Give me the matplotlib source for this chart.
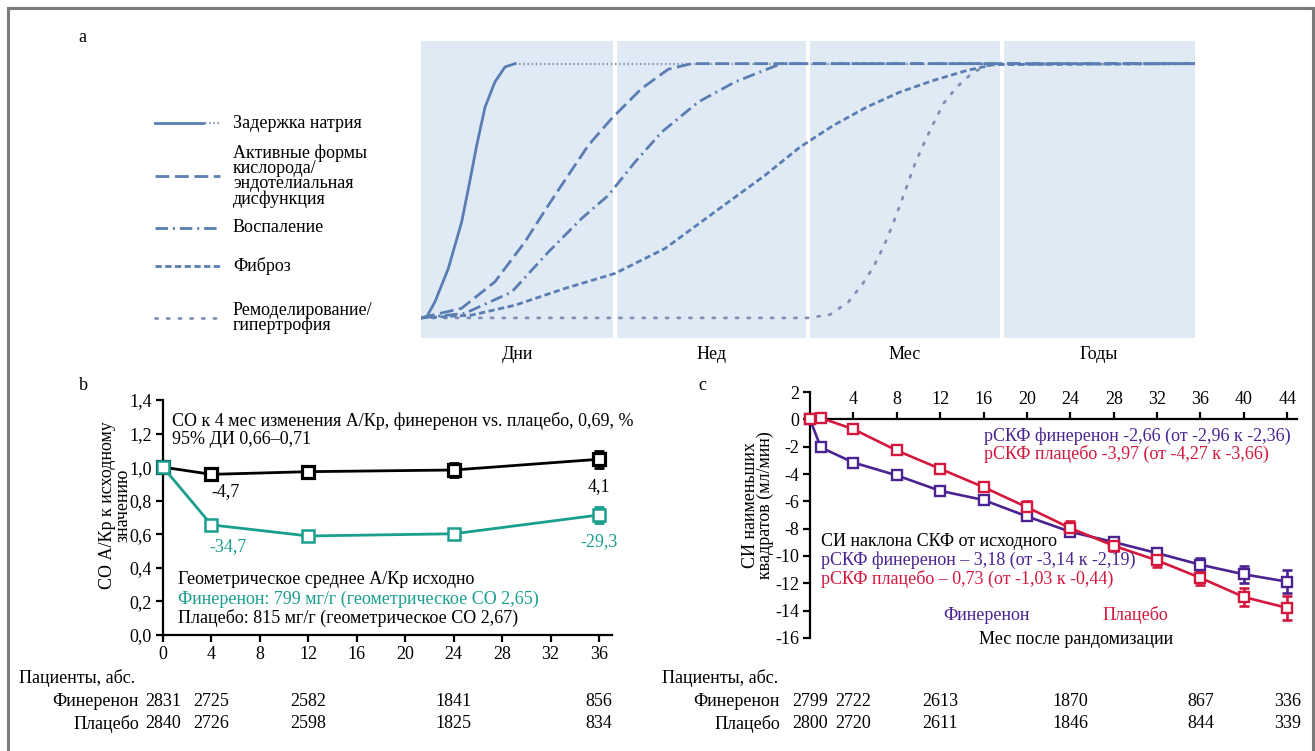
import matplotlib
matplotlib.use('Agg')
import matplotlib.pyplot as plt
import matplotlib.transforms as mtransforms
from matplotlib.lines import Line2D
from matplotlib.patches import Rectangle

plt.rcParams['font.family'] = ['Liberation Serif', 'DejaVu Serif']
plt.rcParams['axes.unicode_minus'] = False
plt.rcParams['lines.scale_dashes'] = False

W, H = 1315, 751
FS = 13

# ---------- panel a: schematic time courses (x: 0..4 = days/weeks/months/years, y: 0..1)
sections = ['Дни', 'Нед', 'Мес', 'Годы']

sodium_x = [0.0, 0.03, 0.072, 0.141, 0.210, 0.245, 0.288, 0.331, 0.382, 0.434, 0.486]
sodium_y = [0.0, 0.005, 0.063, 0.194, 0.377, 0.509, 0.679, 0.829, 0.928, 0.987, 1.0]
sodium_top_x = [0.486, 4.0]
sodium_top_y = [1.0, 1.0]

ros_x = [0.0, 0.21, 0.382, 0.537, 0.658, 0.761, 0.865, 0.985, 1.14, 1.278, 1.398, 4.0]
ros_y = [0.0, 0.038, 0.142, 0.299, 0.443, 0.561, 0.679, 0.784, 0.902, 0.978, 1.0, 1.0]

infl_x = [0.0, 0.227, 0.469, 0.658, 0.830, 0.968, 1.106, 1.244, 1.433, 1.623, 1.795, 1.864, 4.0]
infl_y = [0.0, 0.018, 0.102, 0.259, 0.391, 0.482, 0.613, 0.731, 0.849, 0.928, 0.980, 1.0, 1.0]

fibr_x = [0.0, 0.262, 0.486, 0.744, 1.003, 1.261, 1.519, 1.778, 1.959, 2.131, 2.303, 2.475,
          2.648, 2.820, 2.958, 4.0]
fibr_y = [0.0, 0.011, 0.050, 0.116, 0.175, 0.273, 0.417, 0.561, 0.672, 0.757, 0.829, 0.888,
          0.934, 0.973, 0.996, 1.0]

remod_x = [0.0, 2.0, 2.114, 2.209, 2.278, 2.338, 2.390, 2.433, 2.475, 2.513, 2.553, 2.599,
           2.648, 2.700, 2.769, 2.855, 2.941, 4.0]
remod_y = [0.0, 0.0, 0.013, 0.063, 0.129, 0.200, 0.279, 0.358, 0.443, 0.522, 0.607, 0.686,
           0.764, 0.843, 0.908, 0.967, 0.996, 1.0]

legend_labels = ['Задержка натрия',
                 'Активные формы\nкислорода/\nэндотелиальная\nдисфункция',
                 'Воспаление',
                 'Фиброз',
                 'Ремоделирование/\nгипертрофия']

# ---------- panel b: UACR ratio to baseline
months_b = [0, 4, 12, 24, 36]
placebo_b = [1.0, 0.957, 0.973, 0.983, 1.047]
placebo_b_err = [0, 0, 0, 0.042, 0.05]
finer_b = [1.0, 0.656, 0.59, 0.603, 0.715]
finer_b_err = [0, 0, 0, 0, 0.05]
placebo_b_pct = ['-4,7', '4,1']
finer_b_pct = ['-34,7', '-29,3']
pct_months_b = [4, 36]
n_months_b = [0, 4, 12, 24, 36]
n_finer_b = [2831, 2725, 2582, 1841, 856]
n_placebo_b = [2840, 2726, 2598, 1825, 834]

# ---------- panel c: eGFR change from baseline
months_c = [0, 1, 4, 8, 12, 16, 20, 24, 28, 32, 36, 40, 44]
finer_c = [0.0, -2.06, -3.16, -4.1, -5.23, -5.9, -7.1, -8.23, -8.98, -9.79, -10.64, -11.34, -11.88]
finer_c_err = [0, 0, 0, 0, 0, 0, 0, 0, 0.22, 0.25, 0.5, 0.6, 0.83]
placebo_c = [0.0, 0.1, -0.72, -2.28, -3.62, -4.96, -6.43, -7.96, -9.25, -10.32, -11.6, -13.0, -13.8]
placebo_c_err = [0, 0, 0, 0, 0, 0.32, 0.45, 0.5, 0.36, 0.47, 0.5, 0.67, 0.85]
n_months_c = [0, 4, 12, 24, 36, 44]
n_finer_c = [2799, 2722, 2613, 1870, 867, 336]
n_placebo_c = [2800, 2720, 2611, 1846, 844, 339]

curve_col = '#5a7db3'
remod_col = '#8090b3'
teal = '#1a9e8e'
purple = '#4a2391'
red = '#d4183d'


def fx(x):
    return x / W


def fy(y):
    return 1 - y / H


def pt(px):
    return px * 0.72


fig = plt.figure(figsize=(W / 100, H / 100), dpi=100)
fig.patches.append(Rectangle((fx(8), -0.02), fx(1305), fy(8) + 0.02, transform=fig.transFigure,
                             fill=False, edgecolor='#7a7a7a', lw=2.2))

# ================= panel a
axa = fig.add_axes([fx(421), fy(338), fx(774), 297 / H])
axa.set_facecolor('#e0eaf4')
axa.set_xlim(0, 4)
axa.set_ylim(-0.079, 1.089)
for s in axa.spines.values():
    s.set_visible(False)
for xv in [1, 2, 3]:
    axa.axvline(xv, color='white', lw=3, zorder=1)

st_sod = '-'
st_sod_top = (0, (1.0, 2.0))
st_ros = (0, (10, 4))
st_infl = (0, (9, 3.5, 1.5, 3.5))
st_fibr = (0, (4.5, 2.5))
st_remod = (0, (1.6, 6.8))
LW = 2.0

axa.plot(remod_x, remod_y, color=remod_col, lw=LW, ls=st_remod, dash_capstyle='round', zorder=2)
axa.plot(fibr_x, fibr_y, color=curve_col, lw=LW, ls=st_fibr, zorder=3)
axa.plot(infl_x, infl_y, color=curve_col, lw=LW, ls=st_infl, zorder=3)
axa.plot(ros_x, ros_y, color=curve_col, lw=LW, ls=st_ros, zorder=3)
axa.plot(sodium_top_x, sodium_top_y, color=remod_col, lw=1.6, ls=st_sod_top, zorder=2)
axa.plot(sodium_x, sodium_y, color=curve_col, lw=LW, ls=st_sod, zorder=4)

axa.set_yticks([])
axa.set_xticks([0.5, 1.5, 2.5, 3.5])
axa.set_xticklabels(sections, fontsize=FS)
axa.tick_params(axis='x', length=0, pad=6)

fig.text(fx(78), fy(38), 'а', fontsize=FS, ha='left', va='center')

# legend drawn by hand on the left
leg_y = [123, 176, 228, 266, 318]
leg_styles = [st_sod, st_ros, st_infl, st_fibr, st_remod]
for yy, lab, ls in zip(leg_y, legend_labels, leg_styles):
    col = remod_col if ls is st_remod else curve_col
    if ls is st_sod:
        fig.add_artist(Line2D([fx(155), fx(203)], [fy(yy)] * 2, color=curve_col, lw=LW))
        fig.add_artist(Line2D([fx(205), fx(220)], [fy(yy)] * 2, color=remod_col, lw=1.6,
                              ls=st_sod_top))
    else:
        fig.add_artist(Line2D([fx(155), fx(220)], [fy(yy)] * 2, color=col, lw=LW, ls=ls,
                              dash_capstyle='round' if ls is st_remod else 'butt'))
    fig.text(fx(233), fy(yy), lab, fontsize=FS, ha='left', va='center', linespacing=0.86)

# ================= panel b
axb = fig.add_axes([fx(163), fy(635), fx(449), 235 / H])
axb.set_xlim(0, 37.07)
axb.set_ylim(0, 1.4)
for k in ['top', 'right']:
    axb.spines[k].set_visible(False)
for k in ['left', 'bottom']:
    axb.spines[k].set_linewidth(1.6)
axb.set_xticks(range(0, 37, 4))
yt = [0, 0.2, 0.4, 0.6, 0.8, 1.0, 1.2, 1.4]
axb.set_yticks(yt)
axb.set_yticklabels([('%.1f' % v).replace('.', ',') for v in yt])
axb.tick_params(labelsize=FS, width=1.6, length=5, pad=3)


def draw_series(ax, xs, ys, errs, col, ms, lw, mew):
    ex = [x for x, e in zip(xs, errs) if e > 0]
    ey = [y for y, e in zip(ys, errs) if e > 0]
    ee = [e for e in errs if e > 0]
    if ex:
        ax.errorbar(ex, ey, yerr=ee, fmt='none', ecolor=col, elinewidth=lw, capsize=3.5,
                    capthick=lw, zorder=3, clip_on=False)
    ax.plot(xs, ys, '-s', color=col, mfc='white', mec=col, ms=ms, mew=mew, lw=lw,
            zorder=4, clip_on=False)


draw_series(axb, months_b, placebo_b, placebo_b_err, 'black', 8, 2.0, 2.3)
draw_series(axb, months_b, finer_b, finer_b_err, teal, 8, 2.0, 1.8)

# offsets (px) of the percentage labels from their points
pl_off = [(14, -17), (0, -27)]
fi_off = [(17, -22), (0, -27)]
for m, t, o in zip(pct_months_b, placebo_b_pct, pl_off):
    axb.annotate(t, (m, placebo_b[months_b.index(m)]), xytext=(pt(o[0]), pt(o[1])),
                 textcoords='offset points', ha='center', va='center', fontsize=FS)
for m, t, o in zip(pct_months_b, finer_b_pct, fi_off):
    axb.annotate(t, (m, finer_b[months_b.index(m)]), xytext=(pt(o[0]), pt(o[1])),
                 textcoords='offset points', ha='center', va='center', fontsize=FS, color=teal)

fig.text(fx(172), fy(421), 'СО к 4 мес изменения А/Кр, финеренон vs. плацебо, 0,69, %',
         fontsize=FS, va='center')
fig.text(fx(172), fy(440), '95% ДИ 0,66–0,71', fontsize=FS, va='center')
fig.text(fx(178), fy(580), 'Геометрическое среднее А/Кр исходно', fontsize=FS, va='center')
fig.text(fx(178), fy(599), 'Финеренон: 799 мг/г (геометрическое СО 2,65)', fontsize=FS,
         va='center', color=teal)
fig.text(fx(178), fy(618), 'Плацебо: 815 мг/г (геометрическое СО 2,67)', fontsize=FS,
         va='center')
fig.text(fx(115), fy(505), 'СО А/Кр к исходному\nзначению', rotation=90, fontsize=FS,
         ha='center', va='center', linespacing=0.9)
fig.text(fx(79), fy(386), 'b', fontsize=FS, va='center')

tb = mtransforms.blended_transform_factory(axb.transData, fig.transFigure)
fig.text(fx(19), fy(678), 'Пациенты, абс.', fontsize=FS, va='center')
fig.text(fx(139), fy(702), 'Финеренон', fontsize=FS, va='center', ha='right')
fig.text(fx(139), fy(724), 'Плацебо', fontsize=FS, va='center', ha='right')
for m, a, b in zip(n_months_b, n_finer_b, n_placebo_b):
    fig.text(m, fy(702), str(a), transform=tb, fontsize=FS, va='center', ha='center')
    fig.text(m, fy(724), str(b), transform=tb, fontsize=FS, va='center', ha='center')

# ================= panel c
axc = fig.add_axes([fx(810), fy(638), fx(487), 246 / H])
axc.set_xlim(0, 44.9)
axc.set_ylim(-16, 2)
axc.spines['right'].set_visible(False)
axc.spines['bottom'].set_visible(False)
axc.spines['top'].set_position(('data', 0))
for k in ['left', 'top']:
    axc.spines[k].set_linewidth(1.6)
axc.xaxis.set_ticks_position('top')
axc.set_xticks(range(4, 45, 4))
axc.set_yticks(range(-16, 3, 2))
axc.tick_params(labelsize=FS, width=1.6, length=5, pad=3)

draw_series(axc, months_c, finer_c, finer_c_err, purple, 7, 1.9, 1.7)
draw_series(axc, months_c, placebo_c, placebo_c_err, red, 7, 1.9, 1.7)

fig.text(fx(984), fy(436), 'рСКФ финеренон -2,66 (от -2,96 к -2,36)', fontsize=FS,
         va='center', color=purple)
fig.text(fx(984), fy(454), 'рСКФ плацебо -3,97 (от -4,27 к -3,66)', fontsize=FS,
         va='center', color=red)
fig.text(fx(821), fy(541), 'СИ наклона СКФ от исходного', fontsize=FS, va='center')
fig.text(fx(821), fy(560), 'рСКФ финеренон – 3,18 (от -3,14 к -2,19)', fontsize=FS,
         va='center', color=purple)
fig.text(fx(821), fy(579), 'рСКФ плацебо – 0,73 (от -1,03 к -0,44)', fontsize=FS,
         va='center', color=red)
fig.text(fx(986), fy(615), 'Финеренон', fontsize=FS, va='center', ha='center', color=purple)
fig.text(fx(1135), fy(615), 'Плацебо', fontsize=FS, va='center', ha='center', color=red)
fig.text(fx(1076), fy(640), 'Мес после рандомизации', fontsize=FS, va='center', ha='center')
fig.text(fx(758), fy(505), 'СИ наименьших\nквадратов (мл/мин)', rotation=90, fontsize=FS,
         ha='center', va='center', linespacing=0.9)
fig.text(fx(698), fy(386), 'c', fontsize=FS, va='center')

tc = mtransforms.blended_transform_factory(axc.transData, fig.transFigure)
fig.text(fx(662), fy(678), 'Пациенты, абс.', fontsize=FS, va='center')
fig.text(fx(780), fy(702), 'Финеренон', fontsize=FS, va='center', ha='right')
fig.text(fx(780), fy(724), 'Плацебо', fontsize=FS, va='center', ha='right')
for m, a, b in zip(n_months_c, n_finer_c, n_placebo_c):
    fig.text(m, fy(702), str(a), transform=tc, fontsize=FS, va='center', ha='center')
    fig.text(m, fy(724), str(b), transform=tc, fontsize=FS, va='center', ha='center')

fig.savefig('out.png', dpi=100)
